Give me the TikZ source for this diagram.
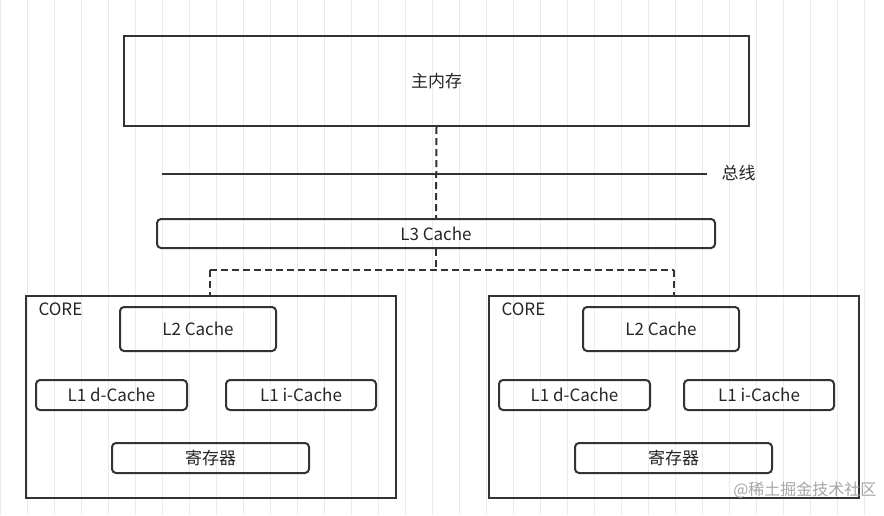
\documentclass[tikz,border=0pt]{standalone}
\usepackage{fontspec}
\setmainfont{Noto Sans CJK SC}
\begin{document}
\begin{tikzpicture}[x=1pt,y=-1pt,
  box/.style={draw=black!80,line width=2pt},
  rbox/.style={draw=black!80,line width=2pt,rounded corners=4pt},
  txt/.style={font=\fontsize{17}{19}\selectfont,text=black!85},
  dashline/.style={draw=black!80,line width=2pt,dash pattern=on 7pt off 4pt}]
\fill[white] (0,0) rectangle (884,515);
\useasboundingbox (0,0) rectangle (884,515);
\draw[black!8,line width=0.6pt,step=27] (0,0) grid (884,515);
\node[box,minimum width=625,minimum height=90,anchor=north west,txt] (mem) at (123,35) {主内存};
\coordinate (b1) at (162,174); \coordinate (b2) at (707,174);
\draw[black!80,line width=2pt] (b1) -- (b2);
\node[txt,anchor=west] (bus) at (718,173) {总线};
\node[rbox,minimum width=558,minimum height=29,anchor=north west,txt,inner sep=0] (l3) at (156,218) {L3 Cache};
\draw[dashline] (mem.south) -- (l3.north);
\coordinate (j) at (436,270);
\coordinate (jl) at (210,270); \coordinate (jr) at (674,270);
\foreach \o/\n/\io in {0/A/225,463/B/683}{
  \node[box,minimum width=370,minimum height=202,anchor=north west] (core\n) at (25+\o,295) {};
  \node[txt,anchor=west] (cl\n) at (35+\o,309) {CORE};
  \node[rbox,minimum width=156,minimum height=44,anchor=north west,txt,inner sep=0] (l2\n) at (119+\o,306) {L2 Cache};
  \node[rbox,minimum width=151,minimum height=30,anchor=north west,txt,inner sep=0] (l1d\n) at (35+\o,379) {L1 d-Cache};
  \node[rbox,minimum width=150,minimum height=30,anchor=north west,txt,inner sep=0] (l1i\n) at (\io,379) {L1 i-Cache};
  \node[rbox,minimum width=197,minimum height=30,anchor=north west,txt,inner sep=0] (reg\n) at (111+\o,442) {寄存器};
}
\draw[dashline] (l3.south) -- (j);
\draw[dashline] (jl) -- (jr);
\draw[dashline] (jl) -- (jl |- coreA.north);
\draw[dashline] (jr) -- (jr |- coreB.north);
\node[font=\fontsize{16}{18}\selectfont,text=black!35,anchor=east] (wm) at (880,490) {@稀土掘金技术社区};
\end{tikzpicture}
\end{document}
